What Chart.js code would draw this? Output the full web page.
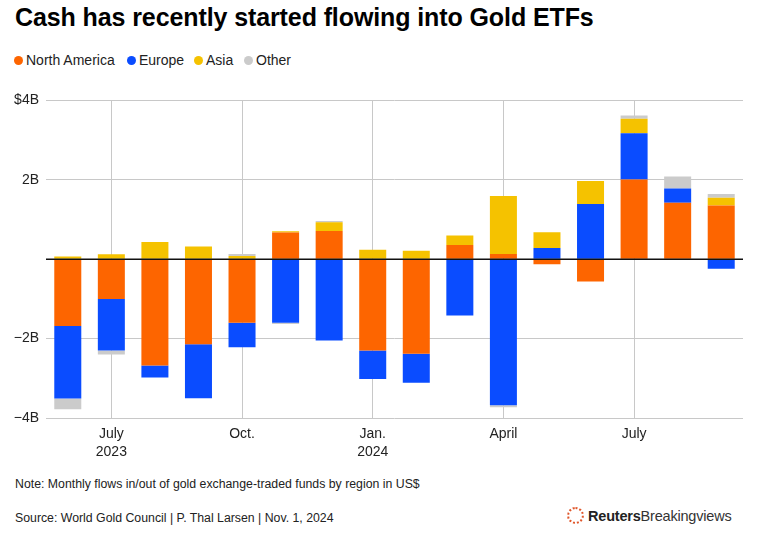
<!DOCTYPE html>
<html>
<head>
<meta charset="utf-8">
<script src="https://cdn.jsdelivr.net/npm/chart.js@4"></script>
<style>
  html, body { margin: 0; padding: 0; background: #fff; }
  body { width: 773px; height: 540px; position: relative; overflow: hidden; font-family: "Liberation Sans", Arial, Helvetica, sans-serif; color: #111; }
  #title { position: absolute; left: 15px; top: 5px; font-size: 25px; line-height: 25px; font-weight: bold; letter-spacing: -0.1px; color: #000; white-space: nowrap; }
  .leg { position: absolute; top: 53px; font-size: 14px; line-height: 14px; color: #222; white-space: nowrap; }
  .leg i { display: inline-block; width: 9px; height: 9px; border-radius: 50%; margin-right: 3px; vertical-align: 0px; }
  #chartWrap { position: absolute; left: 0; top: 85px; width: 773px; height: 385px; }
  .foot { position: absolute; left: 15px; font-size: 12.3px; line-height: 12px; color: #222; white-space: nowrap; }
  #logo { position: absolute; left: 567px; top: 507px; font-size: 14.5px; line-height: 18px; color: #333; white-space: nowrap; letter-spacing: -0.2px; }
  #logo .ring { display: inline-block; width: 13px; height: 13px; border: 2px dotted #e0562a; border-radius: 50%; vertical-align: -3px; margin-right: 4px; }
  #logo b { color: #222; }
</style>
</head>
<body>
<div id="title">Cash has recently started flowing into Gold ETFs</div>
<div id="legend"></div>
<div id="chartWrap"><canvas id="c" width="773" height="385"></canvas></div>
<div class="foot" style="top:478px">Note: Monthly flows in/out of gold exchange-traded funds by region in US$</div>
<div class="foot" style="top:512px">Source: World Gold Council | P. Thal Larsen | Nov. 1, 2024</div>
<div id="logo"><span class="ring"></span><b>Reuters</b>Breakingviews</div>
<script>
// Months (June 2023 - September 2024)
const months = ["Jun 2023","Jul 2023","Aug 2023","Sep 2023","Oct 2023","Nov 2023","Dec 2023","Jan 2024","Feb 2024","Mar 2024","Apr 2024","May 2024","Jun 2024","Jul 2024","Aug 2024","Sep 2024"];
// Flows in US$ billions
const northAmerica = [-1.68, -1.00, -2.68, -2.14, -1.60, 0.67, 0.71, -2.30, -2.38, 0.36, 0.13, -0.13, -0.56, 2.01, 1.42, 1.35];
const europe       = [-1.83, -1.30, -0.30, -1.36, -0.62, -1.60, -2.05, -0.72, -0.73, -1.42, -3.68, 0.28, 1.39, 1.16, 0.36, -0.24];
const asia         = [0.07, 0.125, 0.435, 0.32, 0.08, 0.035, 0.22, 0.235, 0.21, 0.24, 1.46, 0.40, 0.58, 0.37, 0.00, 0.20];
const other        = [-0.27, -0.10, 0.00, 0.00, 0.05, -0.03, 0.03, 0.00, 0.00, 0.00, -0.05, 0.00, 0.00, 0.08, 0.30, 0.09];
// Axis tick labels
const xTickLabels = ["", ["July","2023"], "", "", "Oct.", "", "", ["Jan.","2024"], "", "", "April", "", "", "July", "", ""];
const yTickValues = [-4, -2, 0, 2, 4];
const yTickLabels = ["\u22124B", "\u22122B", "", "2B", "$4B"];
const seriesNames = ["North America", "Europe", "Asia", "Other"];
const seriesColors = ["#fd6500", "#0a4cff", "#f5c200", "#cbcbcb"];

// HTML legend
const legendPos = [14, 127, 194, 244];
const legendEl = document.getElementById("legend");
seriesNames.forEach((n, i) => {
  const d = document.createElement("div");
  d.className = "leg";
  d.style.left = legendPos[i] + "px";
  d.innerHTML = '<i style="background:' + seriesColors[i] + '"></i>' + n;
  legendEl.appendChild(d);
});

const zeroLine = {
  id: "zeroLine",
  afterDatasetsDraw(chart) {
    const y = chart.scales.y.getPixelForValue(0);
    const a = chart.chartArea;
    const ctx = chart.ctx;
    ctx.save();
    ctx.strokeStyle = "#111";
    ctx.lineWidth = 1.5;
    ctx.beginPath();
    ctx.moveTo(a.left, y);
    ctx.lineTo(a.right, y);
    ctx.stroke();
    ctx.restore();
  }
};

const seriesData = [northAmerica, europe, asia, other];
new Chart(document.getElementById("c"), {
  type: "bar",
  data: {
    labels: months,
    datasets: seriesNames.map((n, i) => ({
      label: n,
      data: seriesData[i],
      backgroundColor: seriesColors[i],
      borderWidth: 0,
      barPercentage: 0.62,
      categoryPercentage: 1.0,
      stack: "s"
    }))
  },
  options: {
    responsive: false,
    animation: false,
    devicePixelRatio: 1,
    layout: { padding: { top: 0, right: 30, bottom: 0, left: 0 } },
    plugins: { legend: { display: false }, tooltip: { enabled: false }, title: { display: false } },
    scales: {
      x: {
        stacked: true,
        afterFit(s) { s.height = 52; },
        border: { display: false },
        grid: {
          offset: false,
          drawTicks: false,
          color: (ctx) => (ctx.index !== undefined && xTickLabels[ctx.index] !== "" ? "#c8c8c8" : "rgba(0,0,0,0)"),
          lineWidth: 1
        },
        ticks: {
          autoSkip: false,
          maxRotation: 0,
          padding: 7,
          color: "#222",
          font: { family: "'Liberation Sans', Arial, sans-serif", size: 14, lineHeight: 1.3 },
          callback: (v, i) => xTickLabels[i]
        }
      },
      y: {
        stacked: true,
        min: -4,
        max: 4,
        afterFit(s) { s.width = 46; },
        afterBuildTicks(s) { s.ticks = yTickValues.map(v => ({ value: v })); },
        border: { display: false },
        grid: {
          drawTicks: false,
          color: (ctx) => (ctx.tick && ctx.tick.value === 0 ? "rgba(0,0,0,0)" : "#c8c8c8"),
          lineWidth: 1
        },
        ticks: {
          padding: 7,
          color: "#222",
          font: { family: "'Liberation Sans', Arial, sans-serif", size: 14 },
          callback: (v) => yTickLabels[yTickValues.indexOf(v)]
        }
      }
    }
  },
  plugins: [zeroLine]
});
</script>
</body>
</html>
